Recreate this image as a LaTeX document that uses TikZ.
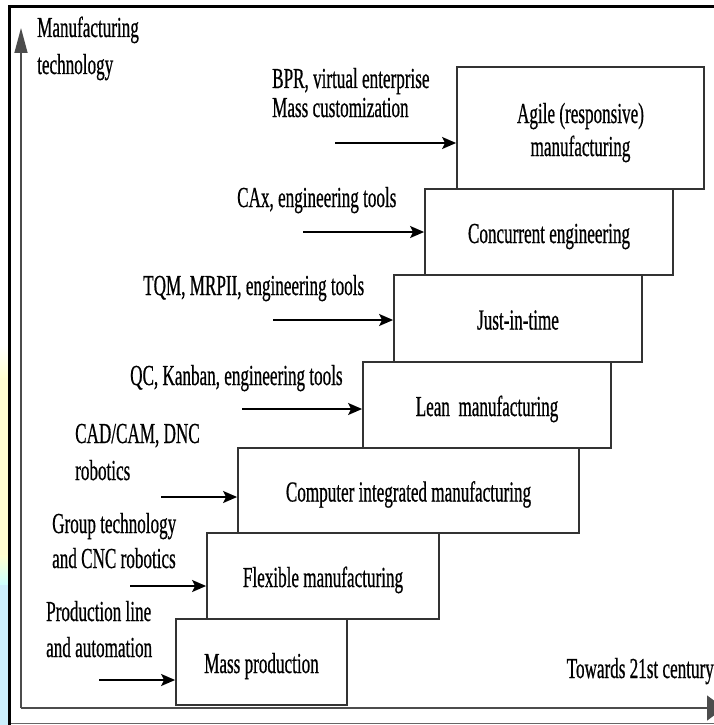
\documentclass[tikz,border=0pt]{standalone}
\usepackage{fontspec}
\setmainfont{Liberation Serif}[FakeStretch=0.59,FakeBold=0.6]
\usetikzlibrary{arrows.meta}
\begin{document}
\begin{tikzpicture}[x=1pt,y=-1pt,
  every node/.style={font=\fontsize{29}{30}\selectfont, inner sep=0pt},
  stage/.style={draw=black!80, line width=1.8pt, fill=white, rectangle,
    text height=22pt, text depth=0pt},
  feed/.style={line width=1.8pt, -{Stealth[length=14pt,width=12pt,inset=3pt]}},
  lbl/.style={anchor=base west, align=left},
  axis/.style={draw=black!70, line width=1.5pt}]
\useasboundingbox (0,0) rectangle (714,725);
% left decorative strip
\fill[white] (0,0) rectangle (8,725);
\shade[top color=white, bottom color=yellow!18] (0,345) rectangle (8,378);
\fill[yellow!18] (0,378) rectangle (8,555);
\shade[top color=yellow!18, bottom color=cyan!20] (0,555) rectangle (8,585);
\fill[cyan!20] (0,585) rectangle (8,725);
% frame
\fill[black] (8,5) rectangle (714,8);
\fill[black] (8,5) rectangle (11,725);
\draw[black!60, line width=0.8pt] (11,723.5) -- (714,723.5);
% axes
\coordinate (O) at (21,708);
\coordinate (ytip) at (21,28);
\coordinate (xtip) at (724,708);
\draw[axis, -{Triangle[length=25pt,width=13pt]}] (O) -- (ytip);
\draw[axis, -{Triangle[length=17pt,width=25pt]}] (O) -- (xtip);
\node[lbl, font=\fontsize{29}{37}\selectfont] (ylab) at (37,74) {Manufacturing\\technology};
\node[anchor=base east] (xlab) at (714,678) {Towards 21st century};
% stages
\node[stage, minimum width=247pt, minimum height=122pt, align=center,
  font=\fontsize{29}{33}\selectfont,
  text height=56pt, text depth=0pt] (agile) at (580.5,128)
  {Agile (responsive)\\manufacturing};
\node[stage, minimum width=248pt, minimum height=86pt] (ce) at (549,232) {Concurrent engineering};
\node[stage, minimum width=248pt, minimum height=87pt] (jit) at (518,318.5) {Just-in-time};
\node[stage, minimum width=248pt, minimum height=86pt] (lean) at (487,405) {Lean\ \ manufacturing};
\node[stage, minimum width=341pt, minimum height=85pt] (cim) at (408.5,490.5) {Computer integrated manufacturing};
\node[stage, minimum width=232pt, minimum height=86pt] (flex) at (323,576) {Flexible manufacturing};
\node[stage, minimum width=171pt, minimum height=86pt] (mass) at (261.5,662) {Mass production};
% enablers
\node[lbl, font=\fontsize{29}{29}\selectfont] (t1) at (272,117) {BPR, virtual enterprise\\Mass customization};
\node[lbl] (t2) at (237,207) {CAx, engineering tools};
\node[lbl] (t3) at (143,295) {TQM, MRPII, engineering tools};
\node[lbl] (t4) at (130,385) {QC, Kanban, engineering tools};
\node[lbl, font=\fontsize{29}{37}\selectfont] (t5) at (75,480) {CAD/CAM, DNC\\robotics};
\node[lbl, font=\fontsize{29}{35}\selectfont] (t6) at (52,568) {Group technology\\and CNC robotics};
\node[lbl, font=\fontsize{29}{36}\selectfont] (t7) at (46,657) {Production line\\and automation};
% arrows
\coordinate (a1) at (335,143);
\coordinate (a2) at (303,232);
\coordinate (a3) at (273,320);
\coordinate (a4) at (242,409);
\coordinate (a5) at (161,497);
\coordinate (a6) at (130,586);
\coordinate (a7) at (99,680);
\draw[feed] (a1) -- (a1 -| agile.west);
\draw[feed] (a2) -- (a2 -| ce.west);
\draw[feed] (a3) -- (a3 -| jit.west);
\draw[feed] (a4) -- (a4 -| lean.west);
\draw[feed] (a5) -- (a5 -| cim.west);
\draw[feed] (a6) -- (a6 -| flex.west);
\draw[feed] (a7) -- (a7 -| mass.west);
\end{tikzpicture}
\end{document}
